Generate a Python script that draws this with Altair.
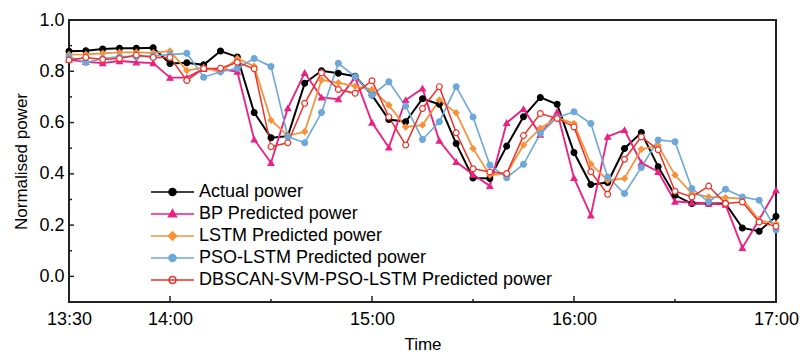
import altair as alt
import pandas as pd

times = ["13:30", "13:35", "13:40", "13:45", "13:50", "13:55", "14:00", "14:05", "14:10",
         "14:15", "14:20", "14:25", "14:30", "14:35", "14:40", "14:45", "14:50", "14:55",
         "15:00", "15:05", "15:10", "15:15", "15:20", "15:25", "15:30", "15:35", "15:40",
         "15:45", "15:50", "15:55", "16:00", "16:05", "16:10", "16:15", "16:20", "16:25",
         "16:30", "16:35", "16:40", "16:45", "16:50", "16:55", "17:00"]

actual = [0.878, 0.880, 0.887, 0.890, 0.890, 0.892, 0.830, 0.833, 0.825, 0.879, 0.856,
          0.639, 0.541, 0.547, 0.753, 0.802, 0.792, 0.781, 0.707, 0.612, 0.603, 0.693,
          0.671, 0.518, 0.384, 0.382, 0.508, 0.623, 0.698, 0.671, 0.483, 0.358, 0.366,
          0.499, 0.561, 0.428, 0.316, 0.284, 0.284, 0.284, 0.189, 0.176, 0.234]
bp = [0.845, 0.837, 0.832, 0.840, 0.835, 0.832, 0.775, 0.775, 0.809, 0.808, 0.799,
      0.534, 0.443, 0.656, 0.794, 0.698, 0.691, 0.776, 0.600, 0.503, 0.688, 0.733,
      0.529, 0.447, 0.397, 0.353, 0.599, 0.653, 0.553, 0.642, 0.384, 0.238, 0.545,
      0.571, 0.443, 0.408, 0.292, 0.288, 0.284, 0.280, 0.111, 0.222, 0.336]
lstm = [0.865, 0.866, 0.870, 0.874, 0.874, 0.872, 0.879, 0.803, 0.815, 0.796, 0.850,
        0.820, 0.609, 0.549, 0.564, 0.766, 0.755, 0.742, 0.729, 0.668, 0.583, 0.590,
        0.688, 0.638, 0.499, 0.395, 0.401, 0.512, 0.578, 0.619, 0.596, 0.438, 0.375,
        0.382, 0.496, 0.510, 0.395, 0.323, 0.310, 0.307, 0.303, 0.219, 0.205]
pso_lstm = [0.857, 0.834, 0.850, 0.857, 0.857, 0.860, 0.865, 0.870, 0.777, 0.798, 0.812,
            0.850, 0.819, 0.545, 0.521, 0.639, 0.831, 0.779, 0.707, 0.759, 0.664, 0.534,
            0.603, 0.740, 0.622, 0.434, 0.385, 0.437, 0.557, 0.620, 0.642, 0.596, 0.388,
            0.323, 0.425, 0.532, 0.525, 0.343, 0.290, 0.340, 0.310, 0.297, 0.182]
dbscan = [0.844, 0.854, 0.846, 0.850, 0.863, 0.854, 0.854, 0.764, 0.811, 0.812, 0.835,
          0.810, 0.506, 0.521, 0.675, 0.794, 0.729, 0.714, 0.763, 0.622, 0.512, 0.655,
          0.740, 0.560, 0.420, 0.407, 0.401, 0.549, 0.635, 0.616, 0.583, 0.408, 0.320,
          0.457, 0.544, 0.494, 0.332, 0.310, 0.352, 0.284, 0.290, 0.212, 0.195]

series_names = ["Actual power", "BP Predicted power", "LSTM Predicted power",
                "PSO-LSTM Predicted power", "DBSCAN-SVM-PSO-LSTM Predicted power"]
series_values = [actual, bp, lstm, pso_lstm, dbscan]
colors = ["#000000", "#EC2184", "#F7923A", "#6EA8DA", "#EE3126"]
fills = ["#000000", "#EC2184", "#F7923A", "#6EA8DA", "#FFFFFF"]
shapes = ["circle", "triangle-up", "diamond", "circle", "circle"]
widths = [2.0, 1.5, 1.6, 1.6, 1.6]

# legend symbols: a line with the marker in the middle (unit coordinates)
circ = "M0.16,0A0.16,0.16,0,1,1,-0.16,0A0.16,0.16,0,1,1,0.16,0Z"
legend_shapes = [
    "M-1,0H1" + circ,
    "M-1,0H1M0,-0.19L0.18,0.13L-0.18,0.13Z",
    "M-1,0H1M0,-0.19L0.19,0L0,0.19L-0.19,0Z",
    "M-1,0H1" + circ,
    "M-1,0H1" + circ,
]

x_label_values = [810, 840, 900, 960, 1020]
x_major_ticks = [840, 900, 960]
x_minor_ticks = [870, 930, 990]
y_label_values = [0.0, 0.2, 0.4, 0.6, 0.8, 1.0]
y_major_ticks = [0.0, 0.2, 0.4, 0.6, 0.8]
y_minor_ticks = [0.1, 0.3, 0.5, 0.7, 0.9]

rows = []
for name, vals in zip(series_names, series_values):
    for t, v in zip(times, vals):
        h, m = t.split(":")
        rows.append({"minutes": int(h) * 60 + int(m), "value": v, "series": name})
df = pd.DataFrame(rows)

FONT = "Liberation Sans"
FS = 18
W, H = 707, 282

xscale = alt.Scale(domain=[810, 1020], nice=False, zero=False)
yscale = alt.Scale(domain=[-0.1, 1.0], nice=False, zero=False)

x_axis = alt.Axis(
    values=x_label_values, ticks=False, domain=False, grid=False, title="Time",
    labelExpr="floor(datum.value/60) + ':' + (datum.value % 60 < 10 ? '0' : '') + (datum.value % 60)",
    labelFlush=False, labelPadding=8, titlePadding=8)
y_axis = alt.Axis(
    values=y_label_values, format=".1f", ticks=False, domain=False, grid=False,
    title="Normalised power", labelPadding=5, titlePadding=8)

sdom = series_names
base = alt.Chart(df)

lines = base.mark_line().encode(
    x=alt.X("minutes:Q", scale=xscale, axis=x_axis),
    y=alt.Y("value:Q", scale=yscale, axis=y_axis),
    color=alt.Color("series:N", scale=alt.Scale(domain=sdom, range=colors), legend=None),
    strokeWidth=alt.StrokeWidth("series:N", scale=alt.Scale(domain=sdom, range=widths), legend=None),
)

points = base.mark_point(size=34, strokeWidth=1.2, opacity=1).encode(
    x=alt.X("minutes:Q", scale=xscale, axis=x_axis),
    y=alt.Y("value:Q", scale=yscale, axis=y_axis),
    color=alt.Color("series:N", scale=alt.Scale(domain=sdom, range=colors), legend=None),
    fill=alt.Fill("series:N", scale=alt.Scale(domain=sdom, range=fills), legend=None),
    shape=alt.Shape("series:N", scale=alt.Scale(domain=sdom, range=shapes), legend=None),
)

leg = alt.Legend(orient="none", legendX=81, legendY=164, title=None, symbolSize=1849,
                 clipHeight=16, rowPadding=4, labelFontSize=FS, labelFont=FONT,
                 labelColor="#000000", labelOffset=4, labelLimit=600,
                 symbolStrokeWidth=1.6, padding=0)

legend_layer = base.transform_filter("false").mark_point(filled=False, opacity=1).encode(
    color=alt.Color("series:N", scale=alt.Scale(domain=sdom, range=colors), legend=leg),
    fill=alt.Fill("series:N", scale=alt.Scale(domain=sdom, range=fills), legend=leg),
    shape=alt.Shape("series:N", scale=alt.Scale(domain=sdom, range=legend_shapes), legend=leg),
)

def xticks(vals, length):
    d = pd.DataFrame({"minutes": vals})
    return alt.Chart(d).mark_rule(color="#222", strokeWidth=1.5).encode(
        x=alt.X("minutes:Q", scale=xscale, axis=x_axis),
        y=alt.value(H), y2=alt.value(H - length))

def yticks(vals, length):
    d = pd.DataFrame({"value": vals})
    return alt.Chart(d).mark_rule(color="#222", strokeWidth=1.5).encode(
        y=alt.Y("value:Q", scale=yscale, axis=y_axis),
        x=alt.value(0), x2=alt.value(length))

chart = alt.layer(
    lines, points, legend_layer,
    xticks(x_major_ticks, 6), xticks(x_minor_ticks, 3),
    yticks(y_major_ticks, 5), yticks(y_minor_ticks, 3),
).resolve_scale(
    color="independent", fill="independent", shape="independent", strokeWidth="independent"
).properties(
    width=W, height=H,
    autosize=alt.AutoSizeParams(type="none"),
    padding={"left": 69, "top": 20, "right": 31, "bottom": 50},
).configure_view(
    stroke="#222", strokeWidth=2
).configure_axis(
    labelFont=FONT, labelFontSize=FS, labelColor="#000000",
    titleFont=FONT, titleFontSize=FS - 1, titleColor="#000000", titleFontWeight="normal",
)

chart.save("out.html", embed_options={"renderer": "svg", "actions": False})
